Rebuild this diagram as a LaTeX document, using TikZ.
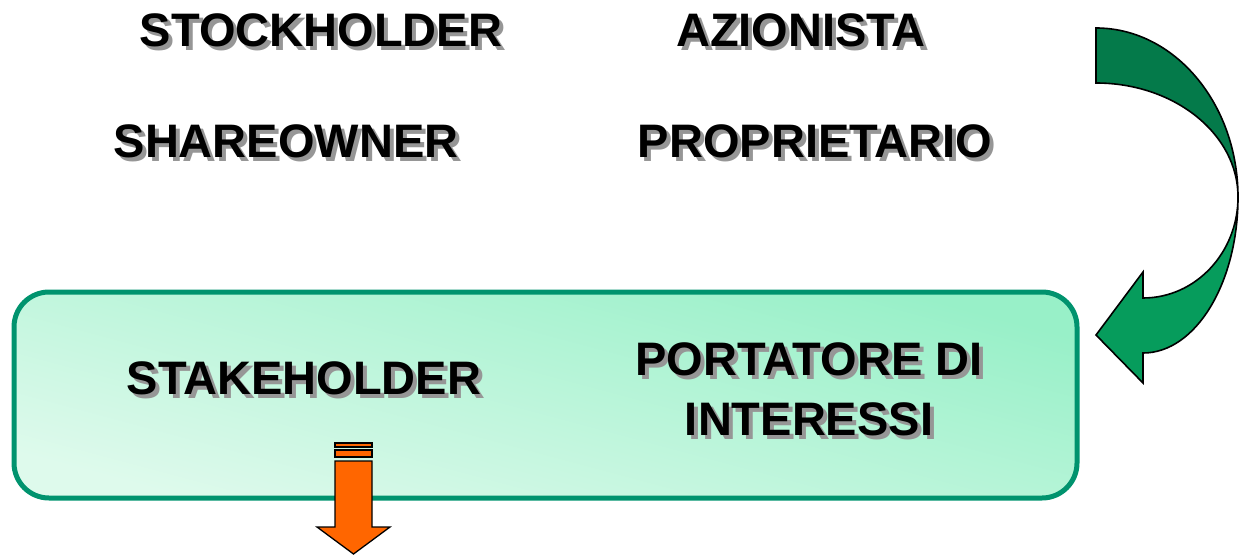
\documentclass[tikz,border=0pt]{standalone}
\usepackage{fontspec}
\setmainfont{Liberation Sans}
\definecolor{boxedge}{RGB}{0,147,110}
\definecolor{mintA}{RGB}{152,240,200}
\definecolor{mintB}{RGB}{222,250,236}
\definecolor{darkgreen}{RGB}{4,122,74}
\definecolor{midgreen}{RGB}{6,156,92}
\definecolor{shadowgray}{RGB}{150,150,150}
\definecolor{orangeA}{RGB}{255,102,0}
\newcommand{\shadowed}[1]{\leavevmode\rlap{\hspace{4pt}\raisebox{-4pt}{\textcolor{shadowgray}{#1}}}#1}
\begin{document}
\begin{tikzpicture}[x=1pt,y=-1pt,
  lbl/.style={anchor=base,inner sep=0pt,font=\fontsize{47}{52}\selectfont\bfseries,text=black},
  greenbox/.style={draw=boxedge,line width=5pt,rounded corners=35pt,top color=mintA,bottom color=mintB,shading angle=-15},
  arrowedge/.style={draw=black,line width=1.6pt,line join=miter}]
\useasboundingbox (0,0) rectangle (1241,556);

% box
\path[greenbox] (14,292) rectangle (1077,498);

% texts
\node[lbl] (stock) at (321,47) {\shadowed{STOCKHOLDER}};
\node[lbl] (azion) at (801,47) {\shadowed{AZIONISTA}};
\node[lbl] (share) at (286,158) {\shadowed{SHAREOWNER}};
\node[lbl] (propr) at (815,158) {\shadowed{PROPRIETARIO}};
\node[lbl] (stake) at (304,394) {\shadowed{STAKEHOLDER}};
\node[lbl] (port) at (809,375) {\shadowed{PORTATORE DI}};
\node[lbl] (inter) at (809,435) {\shadowed{INTERESSI}};

% curved green arrow
\path[arrowedge,fill=darkgreen] (1096,28) .. controls (1174.4,28) and (1238,103.7) .. (1238,197)
  .. controls (1238,134) and (1174.4,83) .. (1096,83) -- cycle;
\path[arrowedge,fill=midgreen] (1238,197) .. controls (1238,283.2) and (1195.5,353) .. (1143,353)
  -- (1143,383) -- (1096,335) -- (1143,272) -- (1143,298)
  .. controls (1195.5,298) and (1238,252.8) .. (1238,197) -- cycle;

% orange arrow
\path[arrowedge,fill=orangeA,line width=1.3pt] (335,443) rectangle (372,447);
\path[arrowedge,fill=orangeA,line width=1.3pt] (335,450) rectangle (372,457);
\path[arrowedge,fill=orangeA,line width=1.3pt] (335,461) -- (372,461) -- (372,527) -- (390,527)
  -- (353.5,554) -- (317,527) -- (335,527) -- cycle;
\end{tikzpicture}
\end{document}
